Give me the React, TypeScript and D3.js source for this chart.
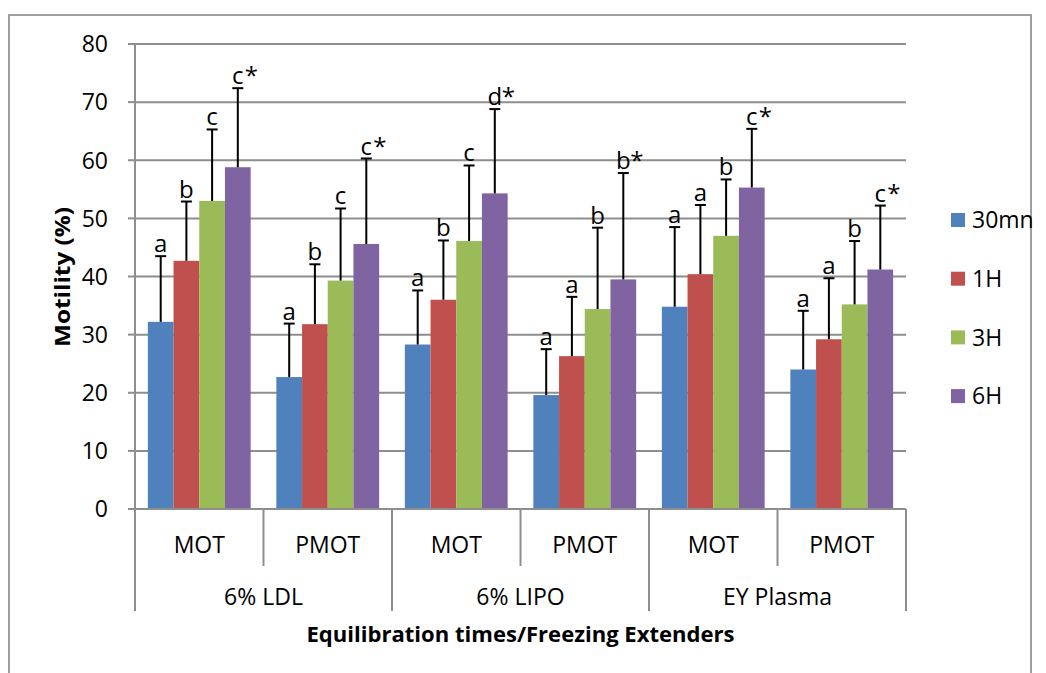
import React from "react";
import * as d3 from "d3";

// Equilibration time series and freezing extender categories
const categories = ["MOT", "PMOT", "MOT", "PMOT", "MOT", "PMOT"];
const extenders = ["6% LDL", "6% LIPO", "EY Plasma"];
const series = ["30mn", "1H", "3H", "6H"];
const yTicks = [0, 10, 20, 30, 40, 50, 60, 70, 80];

// Mean motility (%) per category
const mean30mn = [32.2, 22.7, 28.3, 19.6, 34.8, 24.0];
const mean1H = [42.7, 31.8, 36.0, 26.3, 40.4, 29.2];
const mean3H = [53.0, 39.3, 46.1, 34.4, 47.0, 35.2];
const mean6H = [58.8, 45.6, 54.3, 39.5, 55.3, 41.2];

// Standard deviations (upper error bars)
const sd30mn = [11.3, 9.2, 9.3, 7.9, 13.7, 10.1];
const sd1H = [10.2, 10.3, 10.2, 10.2, 11.9, 10.5];
const sd3H = [12.3, 12.4, 13.0, 14.0, 9.7, 10.9];
const sd6H = [13.6, 14.7, 14.5, 18.3, 10.1, 11.0];

// Significance letters
const sig30mn = ["a", "a", "a", "a", "a", "a"];
const sig1H = ["b", "b", "b", "a", "a", "a"];
const sig3H = ["c", "c", "c", "b", "b", "b"];
const sig6H = ["c*", "c*", "d*", "b*", "c*", "c*"];

const means = [mean30mn, mean1H, mean3H, mean6H];
const sds = [sd30mn, sd1H, sd3H, sd6H];
const sigs = [sig30mn, sig1H, sig3H, sig6H];
const colors = ["#4F81BD", "#C0504D", "#9BBB59", "#8064A2"];

const FONT = "'Open Sans', 'DejaVu Sans', sans-serif";

export default function App() {
  const left = 135;
  const right = 906;
  const top = 44;
  const bottom = 509;

  const y = d3.scaleLinear().domain([0, 80]).range([bottom, top]);
  const x0 = d3
    .scaleBand<number>()
    .domain(categories.map((_, i) => i))
    .range([left, right])
    .padding(0);
  const x1 = d3
    .scaleBand<number>()
    .domain(series.map((_, i) => i))
    .range([0, x0.bandwidth()])
    .paddingInner(0)
    .paddingOuter(0.5);
  const xg = d3
    .scaleBand<number>()
    .domain(extenders.map((_, i) => i))
    .range([left, right])
    .padding(0);

  const grid = "#8e8e8e";
  const capHalf = 5.5;
  const labelSize = 23;

  return (
    <svg
      width={1046}
      height={673}
      style={{ position: "absolute", left: 0, top: 0, background: "#fff" }}
      fontFamily={FONT}
    >
      {/* chart frame */}
      <path d="M9,673 V15 H1031 V673" fill="none" stroke="#a0a0a0" strokeWidth={2} />

      {/* gridlines */}
      {yTicks.filter((t) => t > 0).map((t) => (
        <line key={t} x1={left} x2={right} y1={y(t)} y2={y(t)} stroke={grid} strokeWidth={2} />
      ))}

      {/* y axis */}
      <line x1={left} x2={left} y1={top} y2={bottom} stroke={grid} strokeWidth={2} />
      {yTicks.map((t) => (
        <g key={t}>
          <line x1={left - 7} x2={left} y1={y(t)} y2={y(t)} stroke={grid} strokeWidth={2} />
          <text x={108} y={y(t)} dy="0.36em" textAnchor="end" fontSize={labelSize} fill="#000">
            {t}
          </text>
        </g>
      ))}

      {/* bars */}
      {categories.map((_, ci) => (
        <g key={ci} transform={`translate(${x0(ci)},0)`}>
          {series.map((_, si) => {
            const v = means[si][ci];
            return (
              <rect
                key={si}
                x={x1(si)}
                y={y(v)}
                width={x1.bandwidth()}
                height={y(0) - y(v)}
                fill={colors[si]}
              />
            );
          })}
        </g>
      ))}

      {/* error bars and significance letters */}
      {categories.map((_, ci) => (
        <g key={ci} transform={`translate(${x0(ci)},0)`}>
          {series.map((_, si) => {
            const v = means[si][ci];
            const hi = v + sds[si][ci];
            const cx = (x1(si) as number) + x1.bandwidth() / 2;
            const label = sigs[si][ci];
            const letter = label.replace("*", "");
            const star = label.includes("*");
            return (
              <g key={si}>
                <line x1={cx} x2={cx} y1={y(v)} y2={y(hi)} stroke="#000" strokeWidth={2} />
                <line x1={cx - capHalf} x2={cx + capHalf} y1={y(hi)} y2={y(hi)} stroke="#000" strokeWidth={2} />
                <text x={cx} y={y(hi) - 4} textAnchor="middle" fontSize={24} fill="#000">
                  {letter}
                </text>
                {star && (
                  <text x={cx + 7} y={y(hi) - 4} textAnchor="start" fontSize={24} fill="#000">
                    *
                  </text>
                )}
              </g>
            );
          })}
        </g>
      ))}

      {/* x axis line */}
      <line x1={left} x2={right} y1={bottom} y2={bottom} stroke={grid} strokeWidth={2} />

      {/* category dividers and labels */}
      {categories.map((c, ci) => {
        const x = x0(ci) as number;
        const isGroupEdge = ci % 2 === 0;
        return (
          <g key={ci}>
            <line
              x1={x}
              x2={x}
              y1={bottom}
              y2={isGroupEdge ? 611 : 566}
              stroke={grid}
              strokeWidth={2}
            />
            <text
              x={x + x0.bandwidth() / 2}
              y={545}
              dy="0.36em"
              textAnchor="middle"
              fontSize={labelSize}
              fill="#000"
            >
              {c}
            </text>
          </g>
        );
      })}
      <line x1={right} x2={right} y1={bottom} y2={611} stroke={grid} strokeWidth={2} />

      {/* extender group labels */}
      {extenders.map((g, gi) => (
        <text
          key={g}
          x={(xg(gi) as number) + xg.bandwidth() / 2}
          y={597}
          dy="0.36em"
          textAnchor="middle"
          fontSize={labelSize}
          fill="#000"
        >
          {g}
        </text>
      ))}

      {/* axis titles */}
      <text
        x={(left + right) / 2}
        y={634}
        dy="0.36em"
        textAnchor="middle"
        fontSize={22}
        fontWeight="bold"
        fill="#000"
        textLength={428}
        lengthAdjust="spacingAndGlyphs"
      >
        Equilibration times/Freezing Extenders
      </text>
      <text
        transform="translate(62,277) rotate(-90)"
        dy="0.36em"
        textAnchor="middle"
        fontSize={22}
        fontWeight="bold"
        fill="#000"
        textLength={140}
        lengthAdjust="spacingAndGlyphs"
      >
        Motility (%)
      </text>

      {/* legend */}
      {series.map((s, si) => {
        const cy = 220 + si * 58.7;
        return (
          <g key={s}>
            <rect x={951} y={cy - 7} width={14} height={14} fill={colors[si]} />
            <text x={972} y={cy} dy="0.36em" fontSize={labelSize} fill="#000">
              {s}
            </text>
          </g>
        );
      })}
    </svg>
  );
}
